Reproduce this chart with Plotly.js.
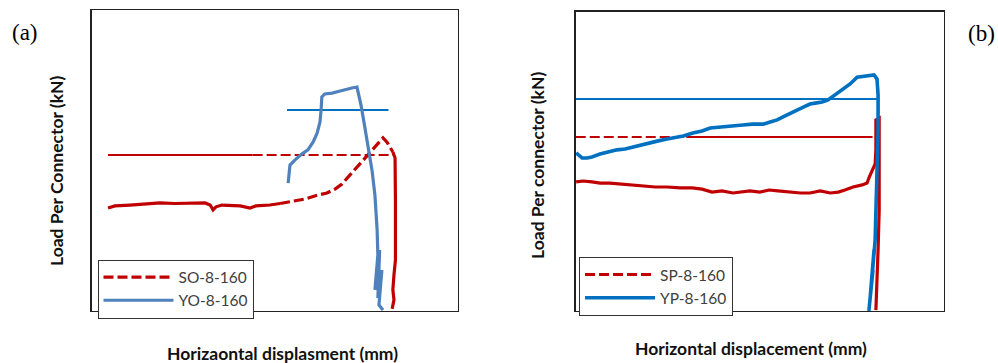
<!DOCTYPE html>
<html>
<head>
<meta charset="utf-8">
<script src="https://cdn.plot.ly/plotly-3.0.1.min.js"></script>
<style>html,body{margin:0;padding:0;background:#fff;}#chart{width:998px;height:363px;}</style>
</head>
<body>
<div id="chart"></div>
<script>
// ---------- Panel (a) data (normalised displacement 0-100, load 0-100) ----------
const aSeriesNames = ["SO-8-160", "YO-8-160"];
const aSO_x = [4.5,6.4,10.5,14.6,18.7,22.8,26.9,31.0,32.4,33.2,34.0,35.6,40.6,43.3,44.9,48.7,51.5,
               54.2,58.3,61.8,64.3,66.5,68.4,70.6,72.5,74.7,76.1,78.0,79.6,80.7,81.5,82.3,
               82.9,83.0,83.0,82.6,82.3,82.6,82.1];
const aSO_y = [34.2,34.9,35.2,35.5,35.9,35.7,35.9,35.9,35.2,33.6,34.6,35.2,34.9,34.2,34.9,35.2,35.7,
               36.2,37.2,38.5,39.2,40.5,42.2,45.2,47.8,50.5,52.5,55.1,57.5,56.1,54.5,52.8,
               50.8,36.9,16.9,12.0,7.0,3.7,0.7];
const aSO_ref_x = [4.5, 44.0, 82.3];
const aSO_ref_y = [51.8, 51.8, 51.8];

const aYO_x = [53.7,53.9,54.2,55.6,57.5,59.1,60.5,61.6,62.4,62.7,62.9,63.7,65.7,67.9,69.8,71.1,72.5,
               72.8,73.6,74.4,75.5,76.6,77.4,78.0,78.2,77.4,78.7,78.2,79.3,78.5,79.6];
const aYO_y = [42.5,45.2,48.5,50.2,52.2,53.5,56.1,59.1,62.8,66.8,71.1,72.1,72.4,73.1,73.8,74.1,74.4,
               72.8,68.4,62.8,54.5,46.8,38.5,26.9,18.6,7.0,20.3,4.3,13.6,2.0,0.3];
const aYO_ref_x = [53.4, 81.1];
const aYO_ref_y = [66.8, 66.8];

// ---------- Panel (b) data ----------
const bSeriesNames = ["SP-8-160", "YP-8-160"];
const bSP_x = [0.1,2.0,4.4,6.6,9.3,12.0,15.6,18.8,21.6,24.8,28.3,31.6,34.3,37.0,39.7,42.7,45.2,47.3,50.0,
               52.5,54.9,58.2,61.0,63.6,66.4,69.1,71.3,73.1,75.3,77.8,79.1,79.7,80.5,81.3,81.5,81.5,
               82.4,82.4,82.4,82.1,81.8,81.5];
const bSP_y = [43.1,43.4,43.1,42.7,42.7,42.4,42.1,41.7,41.4,41.4,41.1,41.1,40.7,39.7,40.1,39.4,39.7,40.1,39.7,
               40.4,40.1,39.7,39.4,39.4,40.1,39.4,39.7,40.4,41.4,42.1,42.7,44.7,47.1,49.1,53.8,63.8,
               64.4,50.4,33.7,20.4,7.0,0.3];
const bSP_ref_x = [0, 30.0, 80.6];
const bSP_ref_y = [58.1, 58.1, 58.1];

const bYP_x = [0.1,0.9,1.7,3.1,4.4,6.6,8.8,11.2,13.4,15.6,18.0,20.2,22.4,24.8,27.0,29.2,31.8,34.3,36.5,
               38.7,41.1,43.3,45.4,47.9,50.9,52.8,54.7,56.3,58.2,60.1,61.8,63.6,65.0,66.9,68.5,70.4,
               72.6,74.5,76.4,78.8,81.0,81.8,82.1,82.1,81.8,81.5,81.3,80.5,81.0,79.9,80.7,79.6];
const bYP_y = [52.8,51.8,51.1,51.1,51.4,52.4,53.1,53.8,54.1,54.8,55.4,56.1,56.8,57.4,57.8,58.4,59.4,60.1,61.1,
               61.4,61.8,62.1,62.1,62.4,62.4,63.1,63.8,64.8,65.8,67.1,68.1,69.1,69.4,69.8,70.5,72.1,
               74.1,75.8,78.1,78.5,78.8,77.5,72.1,60.4,47.1,33.7,23.7,12.0,20.4,3.7,13.7,0.0];
const bYP_ref_x = [0, 81.8];
const bYP_ref_y = [70.8, 70.8];

// ---------- styling ----------
const RED = "#c00000";
const BLUE_A = "#4f81bd";
const BLUE_REF = "#0070c0";
const BLUE_B = "#0070c0";
const DASH = "10px,4px";

function seg(xs, ys, i0, i1) { return {x: xs.slice(i0, i1 + 1), y: ys.slice(i0, i1 + 1)}; }

const aSolidEnd = 16, aDashEnd = 31;
const p1 = seg(aSO_x, aSO_y, 0, aSolidEnd);
const p2 = seg(aSO_x, aSO_y, aSolidEnd, aDashEnd);
const p3 = seg(aSO_x, aSO_y, aDashEnd, aSO_x.length - 1);

const traces = [
  // panel a - red
  {x: aSO_ref_x.slice(0,2), y: aSO_ref_y.slice(0,2), mode: "lines", line: {color: RED, width: 2}, showlegend: false, hoverinfo: "skip", xaxis: "x", yaxis: "y"},
  {x: aSO_ref_x.slice(1,3), y: aSO_ref_y.slice(1,3), mode: "lines", line: {color: RED, width: 2, dash: DASH}, showlegend: false, hoverinfo: "skip", xaxis: "x", yaxis: "y"},
  {x: p1.x, y: p1.y, mode: "lines", line: {color: RED, width: 3.2}, showlegend: false, xaxis: "x", yaxis: "y"},
  {x: p2.x, y: p2.y, mode: "lines", name: aSeriesNames[0], line: {color: RED, width: 3.2, dash: DASH}, legend: "legend", xaxis: "x", yaxis: "y"},
  {x: p3.x, y: p3.y, mode: "lines", line: {color: RED, width: 3.2}, showlegend: false, xaxis: "x", yaxis: "y"},
  // panel a - blue
  {x: aYO_ref_x, y: aYO_ref_y, mode: "lines", line: {color: BLUE_REF, width: 2}, showlegend: false, hoverinfo: "skip", xaxis: "x", yaxis: "y"},
  {x: aYO_x, y: aYO_y, mode: "lines", name: aSeriesNames[1], line: {color: BLUE_A, width: 3.2}, legend: "legend", xaxis: "x", yaxis: "y"},
  // panel b - red
  {x: bSP_ref_x.slice(0,2), y: bSP_ref_y.slice(0,2), mode: "lines", line: {color: RED, width: 2, dash: DASH}, showlegend: false, hoverinfo: "skip", xaxis: "x2", yaxis: "y2"},
  {x: bSP_ref_x.slice(1,3), y: bSP_ref_y.slice(1,3), mode: "lines", line: {color: RED, width: 2}, showlegend: false, hoverinfo: "skip", xaxis: "x2", yaxis: "y2"},
  {x: [null], y: [null], mode: "lines", name: bSeriesNames[0], line: {color: RED, width: 3, dash: DASH}, legend: "legend2", xaxis: "x2", yaxis: "y2"},
  {x: bSP_x, y: bSP_y, mode: "lines", line: {color: RED, width: 3.2}, showlegend: false, xaxis: "x2", yaxis: "y2"},
  // panel b - blue
  {x: bYP_ref_x, y: bYP_ref_y, mode: "lines", line: {color: BLUE_REF, width: 2}, showlegend: false, hoverinfo: "skip", xaxis: "x2", yaxis: "y2"},
  {x: bYP_x, y: bYP_y, mode: "lines", name: bSeriesNames[1], line: {color: BLUE_B, width: 3.6}, legend: "legend2", xaxis: "x2", yaxis: "y2"}
];

const axisCommon = {range: [0, 100], showgrid: false, zeroline: false, showticklabels: false, ticks: "",
  showline: true, mirror: true, linecolor: "#222", linewidth: 1.3, fixedrange: true};

const titleFont = {family: "Lato, 'Open Sans', sans-serif", size: 17.5, color: "#111"};
const legendCommon = {bgcolor: "#fff", bordercolor: "#333", borderwidth: 1, xanchor: "left", yanchor: "top",
  font: {family: "Lato, 'Open Sans', sans-serif", size: 15.5, color: "#404040"}, itemwidth: 70, tracegroupgap: 0};

const layout = {
  width: 998, height: 363,
  margin: {l: 0, r: 0, t: 0, b: 0},
  paper_bgcolor: "#fff", plot_bgcolor: "#fff",
  showlegend: true,
  xaxis: Object.assign({}, axisCommon, {domain: [0.0917, 0.4586], anchor: "y"}),
  yaxis: Object.assign({}, axisCommon, {domain: [0.1433, 0.9725], anchor: "x"}),
  xaxis2: Object.assign({}, axisCommon, {domain: [0.5769, 0.9459], anchor: "y2"}),
  yaxis2: Object.assign({}, axisCommon, {domain: [0.1433, 0.9683], anchor: "x2"}),
  legend: Object.assign({}, legendCommon, {x: 0.0977, y: 0.285}),
  legend2: Object.assign({}, legendCommon, {x: 0.5802, y: 0.292}),
  annotations: [
    {text: "(a)", xref: "paper", yref: "paper", x: 0.01, y: 0.9118, xanchor: "left", yanchor: "middle", showarrow: false,
     font: {family: "'Liberation Serif', 'DejaVu Serif', serif", size: 23, color: "#000"}},
    {text: "(b)", xref: "paper", yref: "paper", x: 0.999, y: 0.909, xanchor: "right", yanchor: "middle", showarrow: false,
     font: {family: "'Liberation Serif', 'DejaVu Serif', serif", size: 23, color: "#000"}},
    {text: "<b>Load Per Connector (kN)</b>", xref: "paper", yref: "paper", x: 0.0571, y: 0.529, textangle: -90,
     xanchor: "center", yanchor: "middle", showarrow: false, font: titleFont},
    {text: "<b>Horizaontal displasment (mm)</b>", xref: "paper", yref: "paper", x: 0.2826, y: 0.0275,
     xanchor: "center", yanchor: "middle", showarrow: false, font: titleFont},
    {text: "<b>Load Per connector (kN)</b>", xref: "paper", yref: "paper", x: 0.539, y: 0.5455, textangle: -90,
     xanchor: "center", yanchor: "middle", showarrow: false, font: titleFont},
    {text: "<b>Horizontal displacement (mm)</b>", xref: "paper", yref: "paper", x: 0.7525, y: 0.0413,
     xanchor: "center", yanchor: "middle", showarrow: false, font: titleFont}
  ]
};

Plotly.newPlot("chart", traces, layout, {staticPlot: true, displayModeBar: false});
</script>
</body>
</html>
